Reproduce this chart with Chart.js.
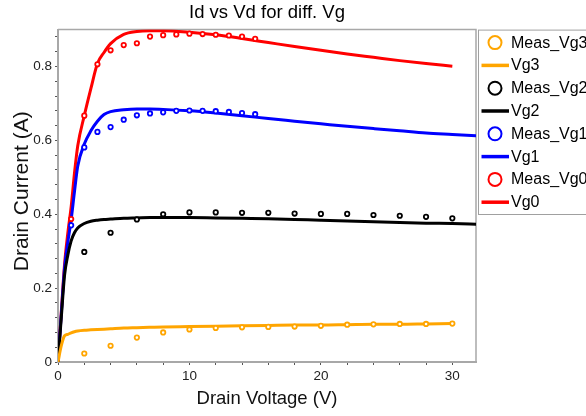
<!DOCTYPE html>
<html>
<head>
<meta charset="utf-8">
<script src="https://cdn.jsdelivr.net/npm/chart.js@4/dist/chart.umd.min.js"></script>
<style>
  html, body { margin: 0; padding: 0; background: #fff; }
  #wrap { width: 586px; height: 416px; }
</style>
</head>
<body>
<div id="wrap"><canvas id="c" width="586" height="416"></canvas></div>
<script>
// Drain voltage samples of the measured points
const vdMeasFine = [1, 2, 3, 4, 5, 6, 7, 8, 9, 10, 11, 12, 13, 14, 15];
const vdMeasCoarse = [2, 4, 6, 8, 10, 12, 14, 16, 18, 20, 22, 24, 26, 28, 30];

// Measured drain current (A)
const measVg0 = [0.387, 0.667, 0.806, 0.844, 0.858, 0.863, 0.881, 0.885, 0.887, 0.889, 0.888, 0.886, 0.884, 0.881, 0.875];
const measVg1 = [0.370, 0.581, 0.623, 0.636, 0.656, 0.668, 0.673, 0.676, 0.680, 0.681, 0.680, 0.679, 0.677, 0.674, 0.671];
const measVg2 = [0.298, 0.350, 0.386, 0.400, 0.405, 0.405, 0.404, 0.404, 0.402, 0.401, 0.401, 0.398, 0.396, 0.393, 0.389];
const measVg3 = [0.023, 0.044, 0.066, 0.080, 0.088, 0.092, 0.094, 0.095, 0.096, 0.098, 0.101, 0.102, 0.103, 0.103, 0.104];

// Model curves (A), sampled at vdModel
const vdModel = [0, 0.25, 0.5, 0.75, 1, 1.25, 1.5, 2, 2.5, 3, 3.5, 4, 5, 6, 7, 8, 10, 12, 14, 16, 18, 20, 22, 24, 26, 28, 30, 32];
const modelVg0 = [0, 0.135, 0.265, 0.350, 0.420, 0.510, 0.585, 0.667, 0.740, 0.808, 0.838, 0.862, 0.887, 0.895, 0.897, 0.897, 0.893, 0.886, 0.876, 0.865, 0.854, 0.844, 0.834, 0.825, 0.816, 0.808, 0.801, null];
const modelVg1 = [0, 0.130, 0.255, 0.325, 0.385, 0.460, 0.530, 0.590, 0.626, 0.652, 0.670, 0.678, 0.683, 0.685, 0.685, 0.684, 0.680, 0.674, 0.667, 0.659, 0.652, 0.645, 0.638, 0.632, 0.626, 0.620, 0.616, 0.612];
const modelVg2 = [0, 0.120, 0.235, 0.290, 0.328, 0.350, 0.363, 0.375, 0.381, 0.384, 0.386, 0.387, 0.389, 0.390, 0.391, 0.391, 0.391, 0.390, 0.389, 0.388, 0.386, 0.384, 0.382, 0.380, 0.378, 0.376, 0.375, 0.373];
const modelVg3 = [0, 0.044, 0.071, 0.075, 0.079, 0.082, 0.084, 0.086, 0.087, 0.088, 0.089, 0.090, 0.092, 0.093, 0.094, 0.095, 0.096, 0.097, 0.098, 0.099, 0.100, 0.100, 0.101, 0.102, 0.102, 0.103, 0.104, null];

// Axis tick label values
const xTickLabels = [0, 10, 20, 30];
const yTickLabels = [0, 0.2, 0.4, 0.6, 0.8];

const COLORS = { Vg0: '#ff0000', Vg1: '#0000ff', Vg2: '#000000', Vg3: '#ffa500' };
const FONT = "'Liberation Sans', Arial, sans-serif";
const Y_TITLE = 'Drain Current (A)';

function pairs(xs, ys) {
  const out = [];
  xs.forEach((x, i) => { if (ys[i] !== null && ys[i] !== undefined) out.push({ x: x, y: ys[i] }); });
  return out;
}

function measSet(label, xs, ys, color) {
  return {
    label: label, data: pairs(xs, ys), showLine: false,
    borderColor: color, backgroundColor: '#ffffff',
    pointRadius: 2.2, pointBorderWidth: 1.8, pointBackgroundColor: '#ffffff',
    pointBorderColor: color, order: 0
  };
}
function modelSet(label, xs, ys, color) {
  return {
    label: label, data: pairs(xs, ys), showLine: true,
    borderColor: color, backgroundColor: color, borderWidth: 3,
    pointRadius: 0, cubicInterpolationMode: 'monotone', order: 1
  };
}

const datasets = [
  measSet('Meas_Vg3', vdMeasCoarse, measVg3, COLORS.Vg3),
  modelSet('Vg3', vdModel, modelVg3, COLORS.Vg3),
  measSet('Meas_Vg2', vdMeasCoarse, measVg2, COLORS.Vg2),
  modelSet('Vg2', vdModel, modelVg2, COLORS.Vg2),
  measSet('Meas_Vg1', vdMeasFine, measVg1, COLORS.Vg1),
  modelSet('Vg1', vdModel, modelVg1, COLORS.Vg1),
  measSet('Meas_Vg0', vdMeasFine, measVg0, COLORS.Vg0),
  modelSet('Vg0', vdModel, modelVg0, COLORS.Vg0)
];

// Top and right edges of the plot frame
const framePlugin = {
  id: 'frame',
  beforeDatasetsDraw(chart) {
    const { ctx, chartArea: a } = chart;
    ctx.save();
    ctx.strokeStyle = '#a8a8a8';
    ctx.lineWidth = 1.5;
    ctx.beginPath();
    ctx.moveTo(a.left, a.top);
    ctx.lineTo(a.right, a.top);
    ctx.lineTo(a.right, a.bottom);
    ctx.stroke();
    ctx.restore();
  }
};

// Rotated title beside the current axis
const yTitlePlugin = {
  id: 'yTitle',
  afterDraw(chart) {
    const { ctx, chartArea: a } = chart;
    ctx.save();
    ctx.translate(22.5, (a.top + a.bottom) / 2 - 4.5);
    ctx.rotate(-Math.PI / 2);
    ctx.font = '21px ' + FONT;
    ctx.fillStyle = '#111';
    ctx.textAlign = 'center';
    ctx.textBaseline = 'middle';
    ctx.fillText(Y_TITLE, 0, 0);
    ctx.restore();
  }
};

// Boxed legend to the right of the plot
const boxLegend = {
  id: 'boxLegend',
  afterDraw(chart) {
    const { ctx, chartArea: a } = chart;
    const left = a.right + 2.5, top = a.top + 0.5;
    const rowH = 22.8;
    const n = chart.data.datasets.length;
    ctx.save();
    ctx.strokeStyle = '#a0a0a0';
    ctx.lineWidth = 1;
    ctx.strokeRect(left, top, 140, n * rowH + 2);
    ctx.font = '16px ' + FONT;
    ctx.textBaseline = 'middle';
    ctx.textAlign = 'left';
    chart.data.datasets.forEach((ds, i) => {
      const cy = top + 12.5 + i * rowH;
      ctx.strokeStyle = ds.borderColor;
      if (ds.showLine) {
        ctx.lineWidth = 3.5;
        ctx.beginPath();
        ctx.moveTo(left + 3, cy);
        ctx.lineTo(left + 30.5, cy);
        ctx.stroke();
      } else {
        ctx.lineWidth = 2;
        ctx.beginPath();
        ctx.arc(left + 16.5, cy, 6.5, 0, Math.PI * 2);
        ctx.stroke();
      }
      ctx.fillStyle = '#000';
      ctx.fillText(ds.label, left + 32.5, cy + 0.5);
    });
    ctx.restore();
  }
};

function isLabelled(v, list) {
  return list.some(t => Math.abs(t - v) < 1e-6);
}

new Chart(document.getElementById('c').getContext('2d'), {
  type: 'scatter',
  data: { datasets: datasets },
  options: {
    responsive: false,
    animation: false,
    layout: { padding: { left: 0, right: 110, top: 0, bottom: 0 } },
    plugins: {
      legend: { display: false },
      tooltip: { enabled: false },
      title: {
        display: true,
        text: 'Id vs Vd for diff. Vg',
        fullSize: false,
        color: '#000',
        font: { family: FONT, size: 18.5, weight: 'normal' },
        padding: { top: 2, bottom: 5.4 }
      }
    },
    scales: {
      x: {
        type: 'linear', min: 0, max: 31.8,
        afterFit(s) { s.height = 54; },
        ticks: {
          stepSize: 2, autoSkip: false, includeBounds: false, maxRotation: 0,
          padding: 3, color: '#222', font: { family: FONT, size: 13.5 },
          callback: v => isLabelled(v, xTickLabels) ? String(v) : ''
        },
        grid: { drawOnChartArea: false, tickLength: 3, tickColor: '#555', tickWidth: 1 },
        border: { display: true, color: '#a8a8a8', width: 2 },
        title: {
          display: true, text: 'Drain Voltage (V)', color: '#111',
          font: { family: FONT, size: 18.5 }, padding: { top: 0, bottom: 6 }
        }
      },
      y: {
        type: 'linear', min: 0, max: 0.9,
        afterFit(s) { s.width = 58; },
        ticks: {
          stepSize: 0.04, autoSkip: false, includeBounds: false,
          padding: 3, color: '#222', font: { family: FONT, size: 13.5 },
          callback: v => isLabelled(v, yTickLabels) ? (v === 0 ? '0' : v.toFixed(1)) : ''
        },
        grid: { drawOnChartArea: false, tickLength: 3, tickColor: '#555', tickWidth: 1 },
        border: { display: true, color: '#a8a8a8', width: 2 },
        title: { display: false }
      }
    }
  },
  plugins: [framePlugin, yTitlePlugin, boxLegend]
});
</script>
</body>
</html>
